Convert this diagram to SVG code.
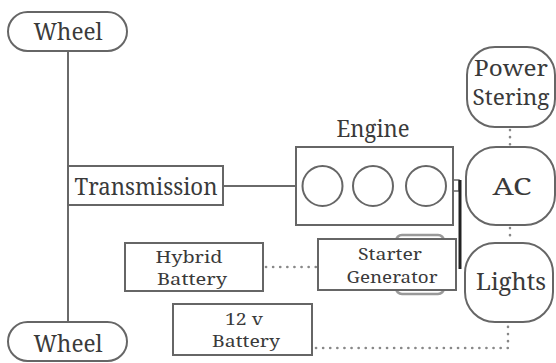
<svg xmlns="http://www.w3.org/2000/svg" width="556" height="363" viewBox="0 0 556 363">
  <style>
    .box { fill: #fff; stroke: #666; stroke-width: 2; }
    .line { fill: none; stroke: #6a6a6a; stroke-width: 2; }
    .dots { fill: none; stroke: #888; stroke-width: 2.6; stroke-linecap: round; stroke-dasharray: 0.1 7; }
    .big { font-family: "Noto Serif", "DejaVu Serif", "Liberation Serif", serif; font-size: 24px; fill: #3a3a3a; text-anchor: middle; }
    .small { font-family: "Noto Serif", "DejaVu Serif", "Liberation Serif", serif; font-size: 15.5px; fill: #3a3a3a; text-anchor: middle; }
  </style>

  <rect width="556" height="363" fill="#fff"/>

  <!-- connectors -->
  <g id="connectors">
    <line class="line" x1="68" y1="51" x2="68" y2="322"/>
    <line class="line" x1="223" y1="186" x2="296" y2="186"/>
    <rect x="453" y="180" width="6" height="11" fill="#fff" stroke="#666" stroke-width="1.5"/>
    <line x1="460" y1="180" x2="460" y2="269" stroke="#222" stroke-width="3"/>
    <line class="dots" x1="266" y1="267" x2="316" y2="267"/>
    <polyline class="dots" points="316,348 508,348 508,324"/>
    <line class="dots" x1="510" y1="130" x2="510" y2="146"/>
    <line class="dots" x1="510" y1="228" x2="510" y2="242"/>
  </g>

  <g id="wheel-top">
    <rect class="box" x="8" y="12" width="119" height="39" rx="19.5"/>
    <text class="big" x="68" y="40" textLength="69" lengthAdjust="spacingAndGlyphs">Wheel</text>
  </g>

  <g id="wheel-bottom">
    <rect class="box" x="8" y="322" width="119" height="39" rx="19.5"/>
    <text class="big" x="68" y="352" textLength="69" lengthAdjust="spacingAndGlyphs">Wheel</text>
  </g>

  <g id="transmission">
    <rect class="box" x="68" y="166" width="155" height="39"/>
    <text class="big" x="146" y="195" textLength="143" lengthAdjust="spacingAndGlyphs">Transmission</text>
  </g>

  <g id="engine">
    <text class="big" x="373" y="137" textLength="73" lengthAdjust="spacingAndGlyphs">Engine</text>
    <rect class="box" x="296" y="147" width="157" height="78"/>
    <circle class="box" cx="322.5" cy="186" r="20"/>
    <circle class="box" cx="373" cy="186" r="20"/>
    <circle class="box" cx="426" cy="186" r="20"/>
  </g>

  <g id="starter-generator">
    <rect x="396" y="235" width="48" height="59" rx="6" fill="#fff" stroke="#999" stroke-width="2.5"/>
    <rect class="box" x="318" y="239" width="138" height="51"/>
    <text class="small" x="390" y="260" textLength="64" lengthAdjust="spacingAndGlyphs">Starter</text>
    <text class="small" x="392" y="283" textLength="91" lengthAdjust="spacingAndGlyphs">Generator</text>
  </g>

  <g id="hybrid-battery">
    <rect class="box" x="125" y="243" width="138" height="48"/>
    <text class="small" x="189" y="263" textLength="67" lengthAdjust="spacingAndGlyphs">Hybrid</text>
    <text class="small" x="192" y="285" textLength="70" lengthAdjust="spacingAndGlyphs">Battery</text>
  </g>

  <g id="battery-12v">
    <rect class="box" x="173" y="304" width="139" height="51"/>
    <text class="small" x="244" y="325" textLength="38" lengthAdjust="spacingAndGlyphs">12 v</text>
    <text class="small" x="246" y="347" textLength="68" lengthAdjust="spacingAndGlyphs">Battery</text>
  </g>

  <g id="power-steering">
    <rect class="box" x="467" y="47" width="88" height="80" rx="28"/>
    <text class="big" x="511" y="76" style="font-size:21px" textLength="74" lengthAdjust="spacingAndGlyphs">Power</text>
    <text class="big" x="511" y="105" style="font-size:21px" textLength="77" lengthAdjust="spacingAndGlyphs">Stering</text>
  </g>

  <g id="ac">
    <rect class="box" x="466" y="147" width="89" height="78" rx="30"/>
    <text class="big" x="512" y="195" textLength="39" lengthAdjust="spacingAndGlyphs">AC</text>
  </g>

  <g id="lights">
    <rect class="box" x="465" y="243" width="88" height="79" rx="30"/>
    <text class="big" x="511" y="290" textLength="70" lengthAdjust="spacingAndGlyphs">Lights</text>
  </g>
</svg>
